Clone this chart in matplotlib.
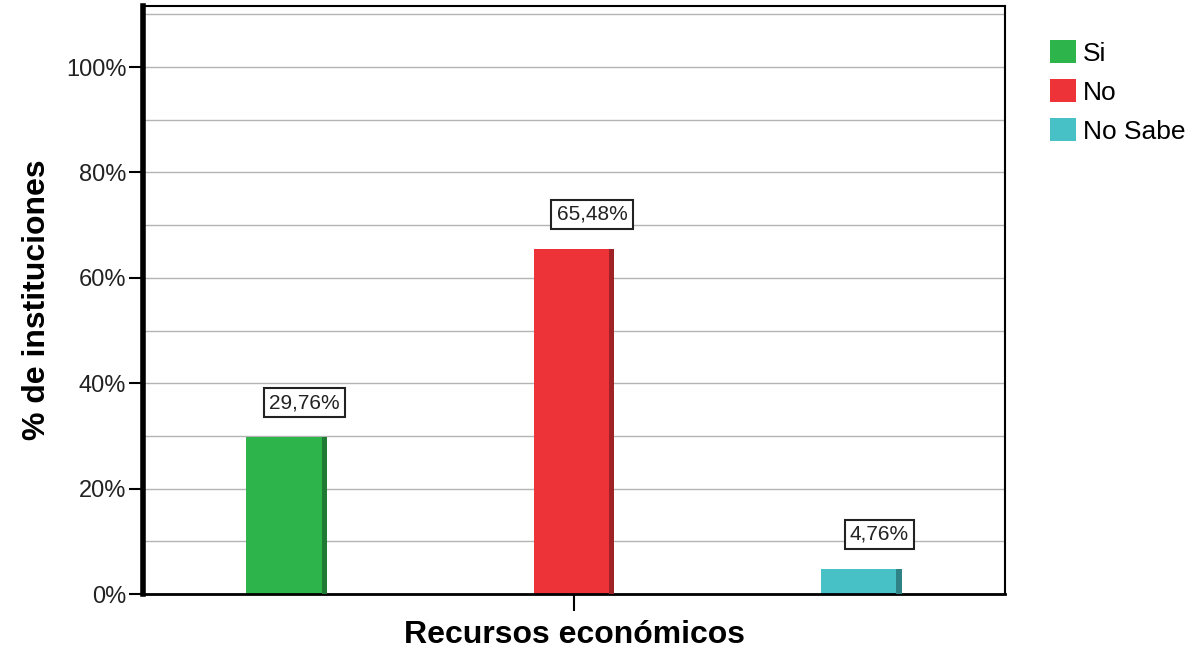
import numpy as np
import matplotlib.pyplot as plt
from matplotlib.patches import Patch

plt.rcParams['font.family'] = ['Liberation Sans', 'DejaVu Sans']

categories = ['Si', 'No', 'No Sabe']
values = [29.76, 65.48, 4.76]
labels = ['29,76%', '65,48%', '4,76%']
colors = ['#2db44a', '#ee3338', '#47c1c6']
dark = ['#1f7a33', '#9e2226', '#2f8286']
y_ticks = [0, 20, 40, 60, 80, 100]
y_ticklabels = ['0%', '20%', '40%', '60%', '80%', '100%']

fig = plt.figure(figsize=(12.03, 6.49), dpi=100)
ax = fig.add_axes([0.1189, 0.0847, 0.8354 - 0.1189, 0.9908 - 0.0847])

x = np.arange(len(values)) - 1
w = 0.28
s = 0.018

# grid every 10%
for g in range(10, 111, 10):
    ax.axhline(g, color='#b4b4b4', lw=1.0, zorder=0)

for xi, v, c, d in zip(x, values, colors, dark):
    ax.bar(xi, v, width=w, color=c, zorder=2)
    ax.bar(xi + w / 2 - s / 2, v, width=s, color=d, zorder=3)

for xi, v, lab in zip(x, values, labels):
    ax.annotate(lab, (xi, v), xytext=(13, 18), textcoords='offset points',
                ha='center', va='bottom', fontsize=15, color='#222222',
                bbox=dict(boxstyle='square,pad=0.25', fc='white', ec='#222222', lw=1.5),
                zorder=5)

ax.set_xlim(-1.5, 1.5)
ax.set_ylim(0, 111.6)
ax.set_yticks(y_ticks)
ax.set_yticklabels(y_ticklabels, fontsize=17, color='#222222')
ax.set_xticks([0])
ax.set_xticklabels([''])
ax.tick_params(axis='y', length=10, width=1.5, pad=2)
ax.tick_params(axis='x', length=12, width=1.5)

ax.spines['left'].set_linewidth(4)
ax.spines['bottom'].set_linewidth(2)
ax.spines['top'].set_linewidth(1.5)
ax.spines['right'].set_linewidth(1.5)

ax.set_xlabel('Recursos económicos', fontsize=23, fontweight='bold', labelpad=3)
ax.set_ylabel('% de instituciones', fontsize=23, fontweight='bold', labelpad=10)

handles = [Patch(facecolor=c, edgecolor='none') for c in colors]
fig.legend(handles, categories, loc='upper left', bbox_to_anchor=(0.864, 0.955),
           frameon=False, fontsize=19, handlelength=1.0, handleheight=1.0,
           handletextpad=0.25, labelspacing=0.5, borderaxespad=0)

fig.savefig('out.png', dpi=100)
